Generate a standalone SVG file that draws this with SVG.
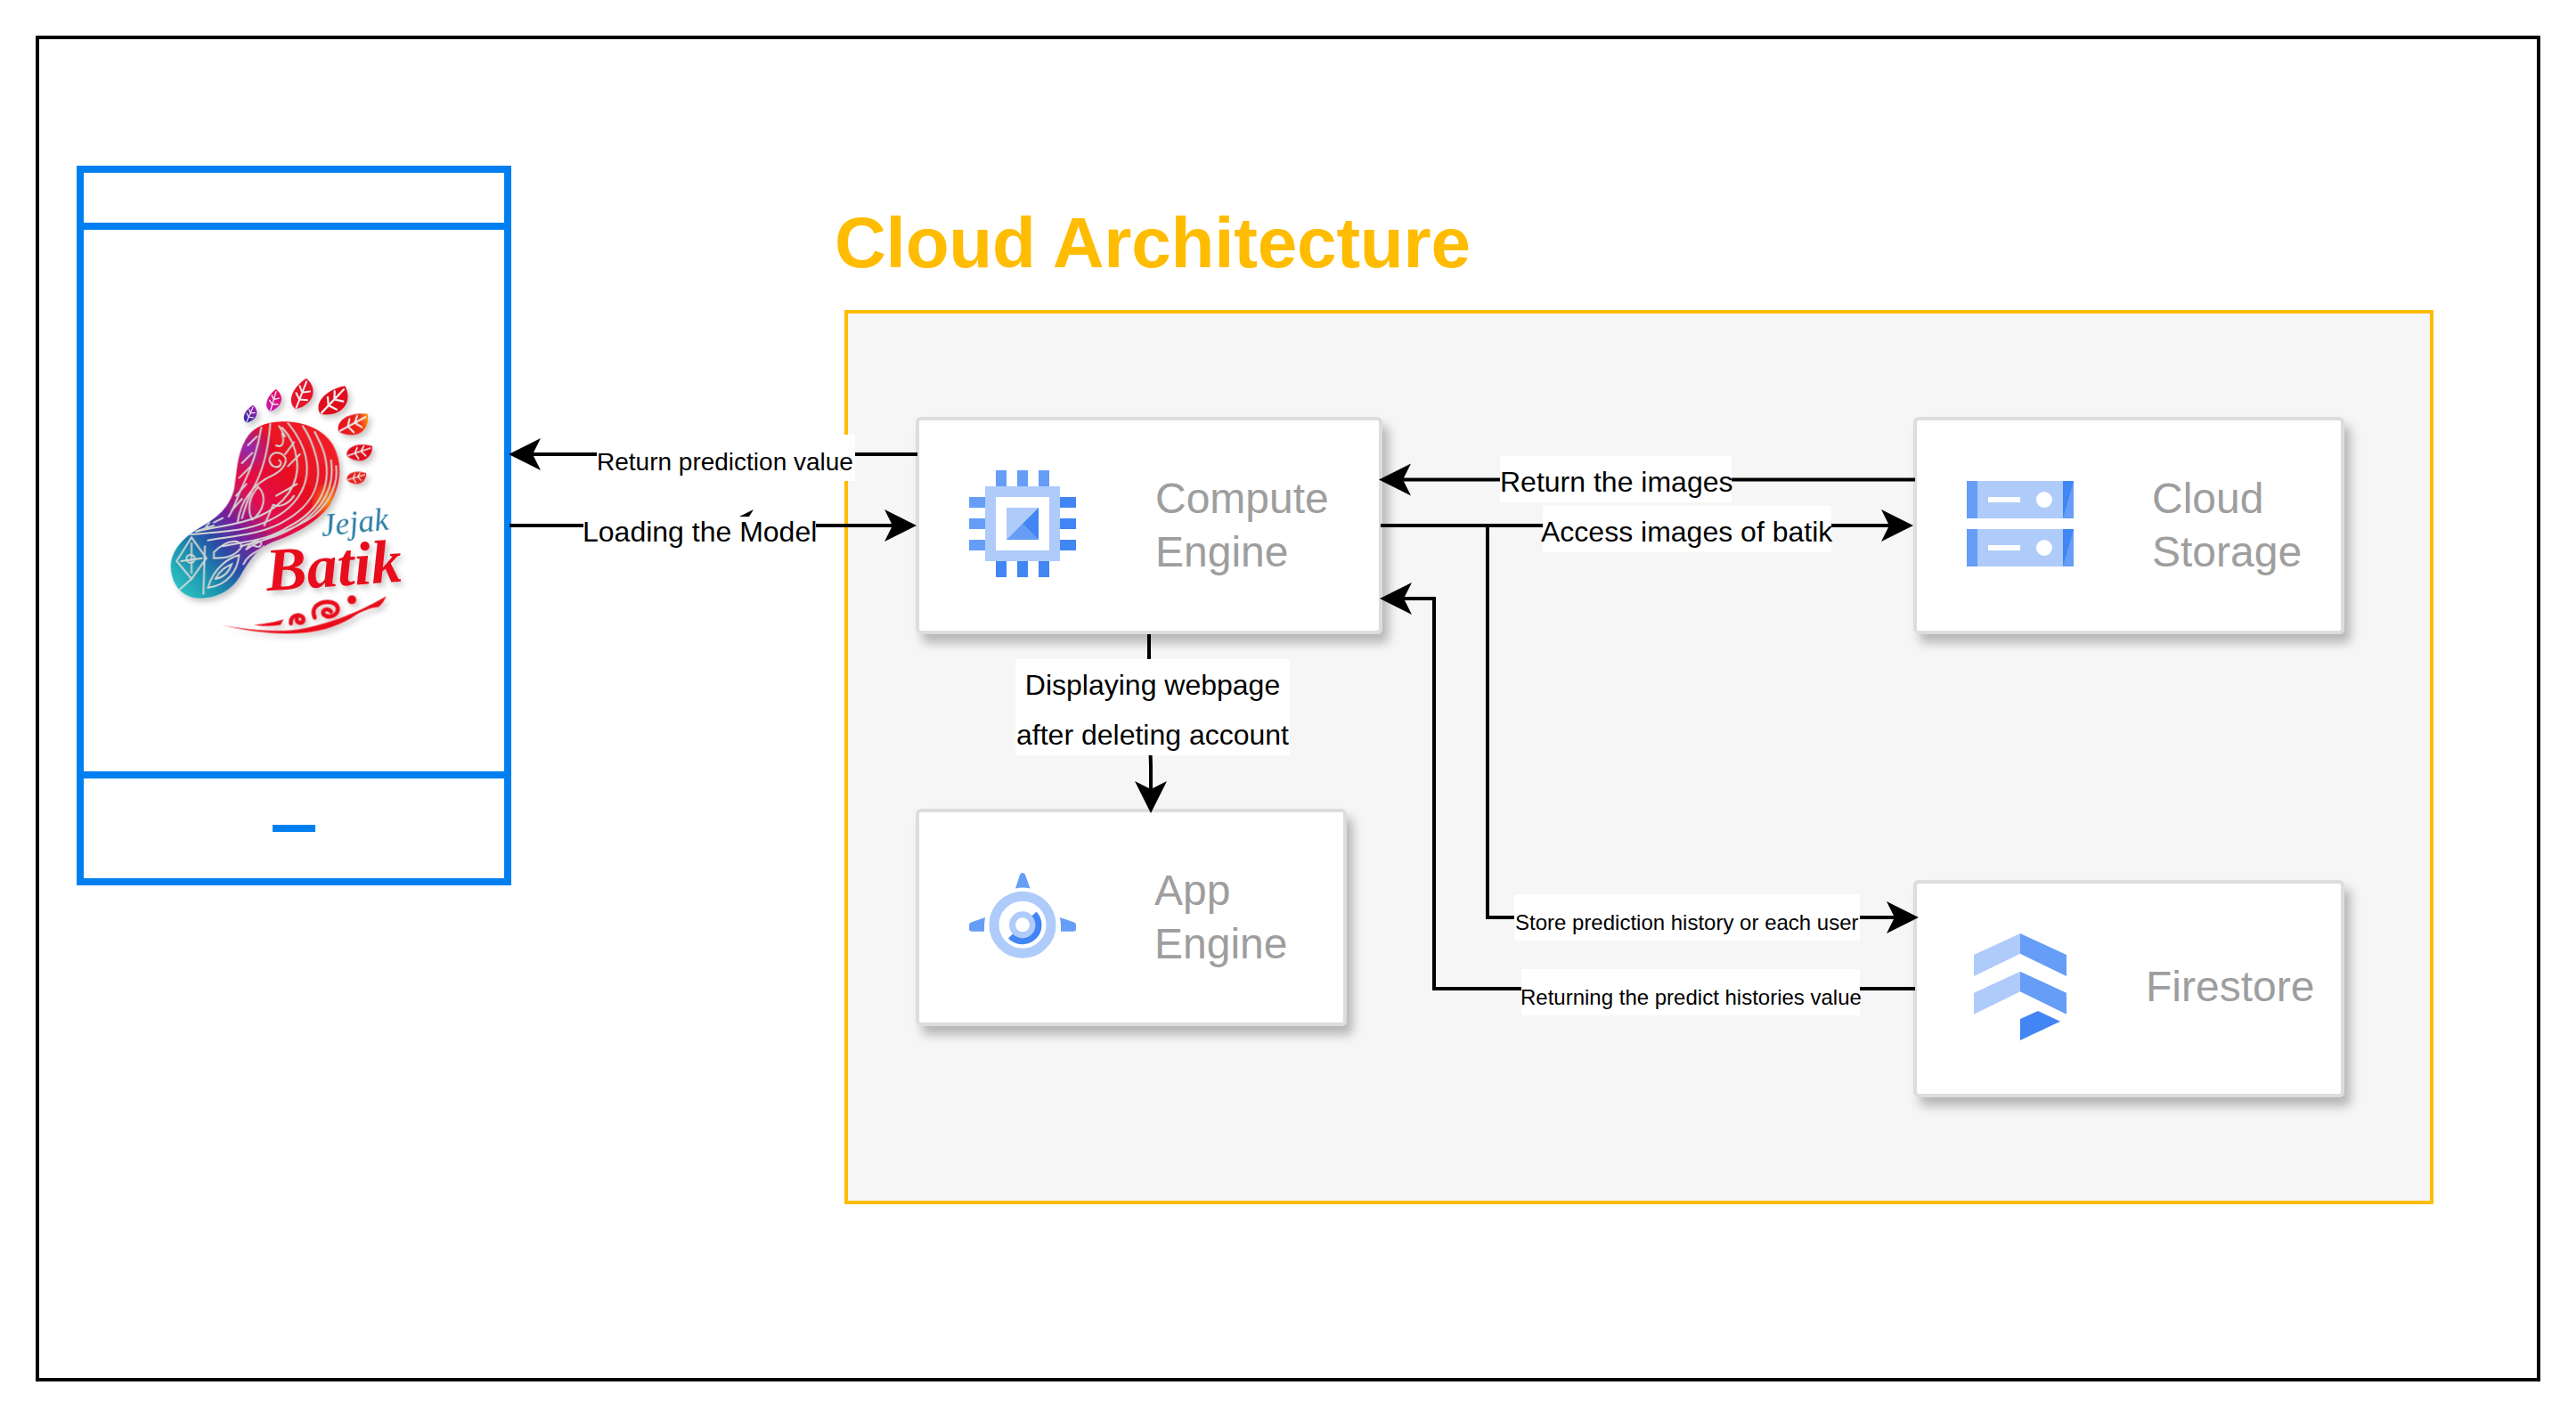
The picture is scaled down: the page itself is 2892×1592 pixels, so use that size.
<svg xmlns="http://www.w3.org/2000/svg" xmlns:xlink="http://www.w3.org/1999/xlink" width="2892" height="1592" viewBox="0 0 2892 1592">
<style>
text{font-family:"Liberation Sans",Arial,sans-serif}
.card{fill:#fff;stroke:#ddd;stroke-width:4;filter:url(#cardShadow)}
.name{font-size:48px;fill:#9e9e9e}
.lbl{font-size:32px;fill:#000}
.lbl28{font-size:28px;fill:#000}
.lbl24{font-size:24px;fill:#000}
.wire{fill:none;stroke:#000;stroke-width:4;marker-end:url(#arrow)}
.lblbg{fill:#fff}
.a{fill:#aecbfa}.b{fill:#669df6}.c{fill:#4285f4}
.ph{fill:none;stroke:#0080f0;stroke-width:8}
.sw{fill:none;stroke:#d4d4d4;stroke-width:6;stroke-linecap:round}
.vein{fill:none;stroke:#eee;stroke-width:6;stroke-linecap:round}
</style>
<defs>
<filter id="cardShadow" x="-10%" y="-10%" width="125%" height="130%"><feDropShadow dx="7" dy="10" stdDeviation="6" flood-color="#000" flood-opacity="0.26"/></filter>
<filter id="logoShadow" x="-15%" y="-15%" width="135%" height="135%"><feDropShadow dx="10" dy="12" stdDeviation="9" flood-color="#000" flood-opacity="0.22"/></filter>
<marker id="arrow" markerUnits="userSpaceOnUse" markerWidth="40" markerHeight="40" refX="32" refY="20" orient="auto" viewBox="0 0 40 40"><path d="M0,2 L36,20 L0,38 L9,20 Z" fill="#000"/></marker>
<linearGradient id="footGrad" gradientUnits="userSpaceOnUse" x1="130" y1="790" x2="650" y2="340">
<stop offset="0" stop-color="#2fc9c6"/><stop offset=".17" stop-color="#1b93b0"/><stop offset=".32" stop-color="#2a4aa6"/><stop offset=".45" stop-color="#7a1f9c"/><stop offset=".6" stop-color="#e3104f"/><stop offset=".82" stop-color="#e8101f"/><stop offset="1" stop-color="#ef1c28"/>
</linearGradient>
<radialGradient id="footOrange" gradientUnits="userSpaceOnUse" cx="660" cy="490" r="70"><stop offset="0" stop-color="#ff9a10" stop-opacity=".95"/><stop offset="1" stop-color="#ff9a10" stop-opacity="0"/></radialGradient>
<radialGradient id="footPurple" gradientUnits="userSpaceOnUse" cx="385" cy="310" r="90"><stop offset="0" stop-color="#8a2cc0" stop-opacity=".95"/><stop offset="1" stop-color="#8a2cc0" stop-opacity="0"/></radialGradient>
<linearGradient id="toeOrange" x1="0" y1="0.5" x2="1" y2="0.5"><stop offset="0" stop-color="#e3101f"/><stop offset=".7" stop-color="#ee2a18"/><stop offset="1" stop-color="#ff9a10"/></linearGradient>
<linearGradient id="toeBlue" x1="0" y1="0.5" x2="1" y2="0.5"><stop offset="0" stop-color="#2a2ab0"/><stop offset="1" stop-color="#a21ca8"/></linearGradient>
<linearGradient id="toeMag" x1="0" y1="0.5" x2="1" y2="0.5"><stop offset="0" stop-color="#c414b0"/><stop offset="1" stop-color="#ea1060"/></linearGradient>
<g id="leaf">
<path d="M-50,10 C-54,-26 -8,-48 52,-30 C54,14 10,52 -50,10 Z"/>
<path class="vein" d="M-46,8 L44,-22 M-18,-1 L-8,-24 M6,-9 L18,-30 M-16,0 L-2,20 M8,-8 L26,8"/>
</g>
<clipPath id="footClip"><path d="M125,705 C128,650 170,610 215,582 C270,550 318,520 338,450 C348,400 345,340 378,280 C402,240 440,222 500,220 C570,218 640,245 672,300 C705,360 700,430 660,500 C620,560 540,600 470,625 C420,645 395,680 365,730 C340,780 290,815 225,815 C165,815 125,770 125,705 Z"/></clipPath>
</defs>

<rect width="2892" height="1592" fill="#fff"/>
<rect id="frame" x="42" y="42" width="2808" height="1507" fill="none" stroke="#000" stroke-width="4"/>

<g id="phone">
<rect class="ph" x="90" y="190" width="480" height="800"/>
<path class="ph" d="M90,254H570M90,870H570"/>
<rect x="306" y="926" width="48" height="8" fill="#0080f0"/>
</g>

<g id="logo" transform="translate(150,400) scale(0.33333)">
<g filter="url(#logoShadow)">
<use xlink:href="#leaf" fill="url(#toeBlue)" transform="translate(395,198) rotate(-48) scale(.58)"/>
<use xlink:href="#leaf" fill="url(#toeMag)" transform="translate(475,153) rotate(-55) scale(.7)"/>
<use xlink:href="#leaf" fill="#e5142a" transform="translate(571,133) rotate(-50) scale(1)"/>
<use xlink:href="#leaf" fill="#e0101e" transform="translate(675,158) rotate(-28) scale(1.15)"/>
<use xlink:href="#leaf" fill="url(#toeOrange)" transform="translate(740,235) rotate(-10) scale(1.05)"/>
<use xlink:href="#leaf" fill="#e0101e" transform="translate(760,328) rotate(0) scale(.85)"/>
<use xlink:href="#leaf" fill="#e8201e" transform="translate(750,412) rotate(2) scale(.64)"/>
<path id="footShape" d="M125,705 C128,650 170,610 215,582 C270,550 318,520 338,450 C348,400 345,340 378,280 C402,240 440,222 500,220 C570,218 640,245 672,300 C705,360 700,430 660,500 C620,560 540,600 470,625 C420,645 395,680 365,730 C340,780 290,815 225,815 C165,815 125,770 125,705 Z" fill="url(#footGrad)"/>
</g>
<g clip-path="url(#footClip)">
<rect x="600" y="420" width="140" height="140" fill="url(#footOrange)"/>
<rect x="295" y="220" width="180" height="180" fill="url(#footPurple)"/>
<path class="sw" d="M190,600 C300,590 370,590 440,560 C540,520 600,440 580,340 C570,290 540,250 520,225"/>
<path class="sw" d="M250,620 C340,605 420,600 490,565 C590,515 640,440 615,340 C605,300 590,265 570,235"/>
<path class="sw" d="M300,640 C390,620 450,620 520,575 C610,530 670,450 645,340 C640,310 625,285 610,255"/>
<path class="sw" d="M360,640 C430,620 490,610 550,570 C630,520 680,450 665,350"/>
<path class="sw" d="M380,650 C450,600 540,590 610,535 C660,490 690,430 682,370"/>
<path class="sw" d="M210,590 C290,570 350,570 420,540 C510,500 560,430 550,350 C545,310 530,270 500,240"/>
<path class="sw" d="M350,560 C360,490 400,430 470,400 C500,385 530,350 500,330 C470,310 440,350 470,370 C490,380 505,360 490,350"/>
<path class="sw" d="M430,240 C420,300 400,370 370,430 C350,470 340,510 320,540"/>
<path class="sw" d="M460,228 C455,300 440,380 400,450 C385,480 375,510 365,545"/>
<path class="sw" d="M385,300 L415,270 M365,360 L400,325 M355,410 L395,370 M345,470 L380,430 M330,520 L365,480 M500,260 C510,290 500,310 480,300 M540,290 L510,330 M560,330 L520,370 M490,235 L510,270"/>
<path class="sw" d="M420,440 C450,470 440,520 400,550 C380,520 390,470 420,440 Z"/>
<path class="sw" d="M480,470 L550,430 M470,500 C490,510 520,500 540,470 M440,570 L470,500"/>
<path class="sw" d="M270,660 C320,610 360,620 365,640 C340,680 300,680 270,680 Z"/>
<path class="sw" d="M250,780 C270,710 320,680 355,670 C350,720 320,770 250,780 Z"/>
<path class="sw" d="M275,750 C290,720 310,710 330,700 C320,730 300,745 275,750"/>
<path class="sw" d="M240,640 L235,800 M380,650 C395,620 425,615 430,630 C430,650 400,640 400,630 M370,700 C390,660 420,660 440,640"/>
<path class="sw" d="M195,610 L245,680 L195,750 L145,690 Z M160,690 L230,680 M195,630 L195,730 M150,790 L195,750"/>
<circle cx="192" cy="682" r="14" class="sw"/>
<path class="sw" d="M210,590 L270,570 M240,580 L255,560 M270,560 L300,545"/>
</g>
<text x="635" y="608" font-size="108" font-style="italic" fill="#2b7ca6" style="font-family:'Liberation Serif',serif" transform="rotate(-6 635 608)">Jejak</text>
<g filter="url(#logoShadow)">
<text x="450" y="790" font-size="206" font-weight="700" font-style="italic" fill="#e8101c" style="font-family:'Liberation Serif',serif" transform="rotate(-4 450 790)">Batik</text>
<path d="M295,905 C400,925 500,932 580,915 C680,895 780,850 850,808 C845,825 835,835 825,845 C800,845 770,860 750,870 C700,905 640,925 570,932 C480,940 380,925 295,905 Z" fill="#e8101c"/>
<path d="M405,905 C440,900 480,895 505,885 L495,905 C460,910 430,910 405,905 Z" fill="#e8101c"/>
<path d="M530,900 C525,865 575,865 572,890 C565,905 545,895 550,885 M610,880 C590,835 650,815 680,835 C705,860 665,890 640,870 C630,855 655,845 665,860" fill="none" stroke="#e8101c" stroke-width="14" stroke-linecap="round"/>
<circle cx="735" cy="820" r="15" fill="#e8101c"/>
</g>
</g>

<g id="cloud-group">
<rect x="950" y="350" width="1780" height="1000" fill="#f6f6f6" stroke="#ffbc00" stroke-width="4"/>
<text x="937" y="300" font-size="80" font-weight="700" fill="#ffbc00" textLength="714">Cloud Architecture</text>
</g>

<g id="compute-engine">
<rect class="card" x="1030" y="470" width="520" height="240" rx="4"/>
<path class="b" d="M1118,528h12v18h-12zM1142,528h12v18h-12zM1166,528h12v18h-12zM1088,558h18v12h-18zM1088,582h18v12h-18zM1088,606h18v12h-18z"/>
<path class="c" d="M1118,630h12v18h-12zM1142,630h12v18h-12zM1166,630h12v18h-12zM1190,558h18v12h-18zM1190,582h18v12h-18zM1190,606h18v12h-18z"/>
<path class="a" fill-rule="evenodd" d="M1106,546h84v84h-84zM1118,558v60h60v-60z"/>
<rect class="a" x="1130" y="570" width="36" height="36"/>
<path class="b" d="M1130,606h36l-18,-18z"/>
<path class="c" d="M1166,570v36l-18,-18z"/>
<text class="name" x="1297" y="576">Compute</text>
<text class="name" x="1297" y="636">Engine</text>
</g>

<g id="cloud-storage">
<rect class="card" x="2150" y="470" width="480" height="240" rx="4"/>
<g id="st1">
<rect class="b" x="2208" y="540" width="12" height="42"/>
<rect class="a" x="2220" y="540" width="96" height="42"/>
<rect class="c" x="2316" y="540" width="12" height="42"/>
<path class="b" d="M2328,540v42h-12z"/>
<rect x="2232" y="558" width="36" height="6" fill="#fff"/>
<circle cx="2295" cy="561" r="9" fill="#fff"/>
</g>
<g id="st2">
<rect class="b" x="2208" y="594" width="12" height="42"/>
<rect class="a" x="2220" y="594" width="96" height="42"/>
<rect class="c" x="2316" y="594" width="12" height="42"/>
<path class="b" d="M2328,594v42h-12z"/>
<rect x="2232" y="612" width="36" height="6" fill="#fff"/>
<circle cx="2295" cy="615" r="9" fill="#fff"/>
</g>
<text class="name" x="2416" y="576">Cloud</text>
<text class="name" x="2416" y="636">Storage</text>
</g>

<g id="app-engine">
<rect class="card" x="1030" y="910" width="480" height="240" rx="4"/>
<path class="b" d="M1140,997.500L1145,982Q1146,980 1148,980Q1150,980 1151,982L1156.500,997.500Q1148,995.500 1140,997.500Z"/>
<path class="b" d="M1106,1030L1090,1035.500Q1088,1036.500 1088,1038.500V1043Q1088,1045.800 1091,1045.800H1105Q1104.500,1037 1106,1030Z"/>
<path class="b" d="M1190,1030L1206,1035.500Q1208,1036.500 1208,1038.500V1043Q1208,1045.800 1205,1045.800H1191Q1191.500,1037 1190,1030Z"/>
<circle cx="1148" cy="1038.300" r="32" fill="none" stroke="#aecbfa" stroke-width="11"/>
<circle cx="1148" cy="1038.300" r="11.500" fill="none" stroke="#aecbfa" stroke-width="7"/>
<path d="M1161,1026 A17.500,17.500 0 1 1 1134.500,1051" fill="none" stroke="#4285f4" stroke-width="7"/>
<text class="name" x="1296" y="1016">App</text>
<text class="name" x="1296" y="1076">Engine</text>
</g>

<g id="firestore">
<rect class="card" x="2150" y="990" width="480" height="240" rx="4"/>
<path class="a" d="M2216,1072L2268,1048V1070.700L2216,1096ZM2216,1114.700L2268,1090.700V1113.300L2216,1138.700Z"/>
<path class="b" d="M2320,1072L2268,1048V1070.700L2320,1096ZM2320,1114.700L2268,1090.700V1113.300L2320,1138.700Z"/>
<path class="c" d="M2268,1144L2288,1135L2313,1146.700L2268,1168Z"/>
<text class="name" x="2409" y="1124">Firestore</text>
</g>

<g id="connectors">
<path class="wire" d="M1030,510H575"/>
<path class="wire" d="M572,590H1025"/>
<path class="wire" d="M2150,538.500H1552"/>
<path class="wire" d="M1550,590H2144"/>
<path class="wire" d="M1670,590V1030H2150"/>
<path class="wire" d="M2150,1110H1610V672H1553"/>
<path class="wire" d="M1290,712V800L1292,860V909"/>
<rect class="lblbg" x="670" y="488" width="290" height="52"/>
<text class="lbl28" x="670" y="528">Return prediction value</text>
<rect class="lblbg" x="655" y="568" width="261" height="52"/>
<text class="lbl" x="654" y="608">Loading the Model</text>
<path d="M830,580L846,572L841,580Z" fill="#000"/>
<rect class="lblbg" x="1684" y="512" width="260" height="52"/>
<text class="lbl" x="1684" y="552">Return the images</text>
<rect class="lblbg" x="1732" y="568" width="324" height="52"/>
<text class="lbl" x="1730" y="608">Access images of batik</text>
<rect class="lblbg" x="1700" y="1004" width="388" height="52"/>
<text class="lbl24" x="1701" y="1044">Store prediction history or each user</text>
<rect class="lblbg" x="1708" y="1088" width="380" height="52"/>
<text class="lbl24" x="1707" y="1128">Returning the predict histories value</text>
<rect class="lblbg" x="1140" y="740" width="308" height="108"/>
<text class="lbl" x="1294" y="780" text-anchor="middle">Displaying webpage</text>
<text class="lbl" x="1294" y="836" text-anchor="middle">after deleting account</text>
</g>
</svg>
